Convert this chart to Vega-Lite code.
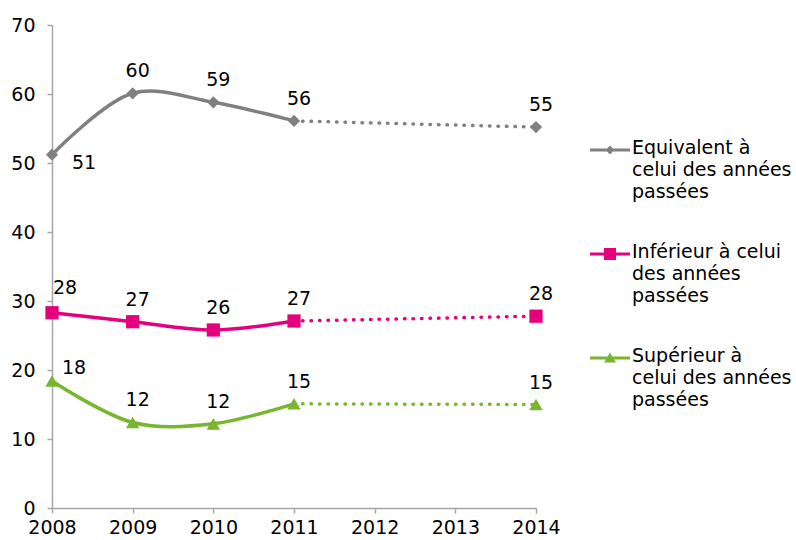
{
  "$schema": "https://vega.github.io/schema/vega-lite/v6.json",
  "width": 484,
  "height": 483,
  "autosize": {"type": "none"},
  "padding": {"left": 52, "top": 25, "right": 260, "bottom": 32},
  "background": "white",
  "config": {
    "view": {"stroke": null},
    "font": "DejaVu Sans",
    "axis": {
      "grid": false,
      "domainColor": "#a6a6a6",
      "tickColor": "#a6a6a6",
      "domainWidth": 1.5,
      "tickWidth": 1.5,
      "tickSize": 5,
      "labelFontSize": 19,
      "labelColor": "#000000",
      "labelFont": "DejaVu Sans",
      "labelFlush": false,
      "labelOverlap": false,
      "title": null
    }
  },
  "data": {
    "values": [
      {"year": 2008, "series": "Equivalent à celui des années passées", "value": 51.2},
      {"year": 2009, "series": "Equivalent à celui des années passées", "value": 60.1},
      {"year": 2010, "series": "Equivalent à celui des années passées", "value": 58.8},
      {"year": 2011, "series": "Equivalent à celui des années passées", "value": 56.1},
      {"year": 2014, "series": "Equivalent à celui des années passées", "value": 55.2},
      {"year": 2008, "series": "Inférieur à celui des années passées", "value": 28.3},
      {"year": 2009, "series": "Inférieur à celui des années passées", "value": 27.0},
      {"year": 2010, "series": "Inférieur à celui des années passées", "value": 25.8},
      {"year": 2011, "series": "Inférieur à celui des années passées", "value": 27.1},
      {"year": 2014, "series": "Inférieur à celui des années passées", "value": 27.8},
      {"year": 2008, "series": "Supérieur à celui des années passées", "value": 18.4},
      {"year": 2009, "series": "Supérieur à celui des années passées", "value": 12.4},
      {"year": 2010, "series": "Supérieur à celui des années passées", "value": 12.2},
      {"year": 2011, "series": "Supérieur à celui des années passées", "value": 15.1},
      {"year": 2014, "series": "Supérieur à celui des années passées", "value": 15.0}
    ]
  },
  "encoding": {
    "x": {
      "field": "year",
      "type": "quantitative",
      "scale": {"domain": [2008, 2014], "nice": false, "zero": false},
      "axis": {"values": [2008, 2009, 2010, 2011, 2012, 2013, 2014], "format": "d", "labelPadding": 5}
    },
    "y": {
      "field": "value",
      "type": "quantitative",
      "scale": {"domain": [0, 70], "nice": false},
      "axis": {"values": [0, 10, 20, 30, 40, 50, 60, 70], "labelPadding": 12}
    },
    "color": {
      "field": "series",
      "type": "nominal",
      "scale": {
        "domain": ["Equivalent à celui des années passées", "Inférieur à celui des années passées", "Supérieur à celui des années passées"],
        "range": ["#808080", "#e5007e", "#77b62e"]
      },
      "legend": {
        "title": null,
        "orient": "none",
        "legendX": 538,
        "legendY": 105,
        "labelFontSize": 19,
        "labelColor": "#000000",
        "labelFont": "DejaVu Sans",
        "symbolSize": 1600,
        "symbolStrokeWidth": 0,
        "symbolType": "M-1,-0.08H1V0.08H-1Z",
        "labelOffset": 2,
        "rowPadding": 32,
        "labelLimit": 300,
        "labelExpr": "datum.label == 'Equivalent à celui des années passées' ? ['Equivalent à', 'celui des années', 'passées'] : datum.label == 'Inférieur à celui des années passées' ? ['Inférieur à celui', 'des années', 'passées'] : ['Supérieur à', 'celui des années', 'passées']",
        "encode": {
          "labels": {"update": {"lineHeight": {"value": 22}, "baseline": {"value": "top"}, "dy": {"value": -11}}},
          "symbols": {
            "update": {
              "fill": {"scale": "color", "field": "value"},
              "size": {"value": 1600},
              "strokeWidth": {"value": 0},
              "opacity": {"value": 1},
              "shape": {"signal": "datum.value == 'Equivalent à celui des années passées' ? 'M-1,-0.08H1V0.08H-1Z M0,-0.22L0.22,0L0,0.22L-0.22,0Z' : datum.value == 'Inférieur à celui des années passées' ? 'M-1,-0.08H1V0.08H-1Z M-0.3,-0.3H0.3V0.3H-0.3Z' : 'M-1,-0.08H1V0.08H-1Z M0,-0.28L0.3,0.22L-0.3,0.22Z'"}
            }
          }
        }
      }
    }
  },
  "layer": [
    {
      "transform": [{"filter": "datum.year <= 2011"}],
      "mark": {"type": "line", "interpolate": "catmull-rom", "strokeWidth": 3.5}
    },
    {
      "transform": [{"filter": "datum.year >= 2011"}],
      "mark": {"type": "line", "strokeWidth": 3.5, "strokeDash": [0.5, 8], "strokeCap": "round"}
    },
    {
      "transform": [{"filter": "datum.series == 'Equivalent à celui des années passées'"}],
      "mark": {"type": "point", "filled": true, "opacity": 1, "shape": "diamond", "size": 150}
    },
    {
      "transform": [{"filter": "datum.series == 'Inférieur à celui des années passées'"}],
      "mark": {"type": "point", "filled": true, "opacity": 1, "shape": "square", "size": 175}
    },
    {
      "transform": [{"filter": "datum.series == 'Supérieur à celui des années passées'"}],
      "mark": {"type": "point", "filled": true, "opacity": 1, "shape": "triangle-up", "size": 180}
    },
    {
      "transform": [{"filter": "datum.year != 2008"}],
      "mark": {"type": "text", "align": "center", "baseline": "middle", "dx": 5, "dy": -22, "fontSize": 19},
      "encoding": {"text": {"field": "value", "type": "quantitative", "format": ".0f"}, "color": {"value": "#000000"}}
    },
    {
      "transform": [{"filter": "datum.year == 2008 && datum.series == 'Equivalent à celui des années passées'"}],
      "mark": {"type": "text", "align": "left", "baseline": "middle", "dx": 20, "dy": 8, "fontSize": 19},
      "encoding": {"text": {"field": "value", "type": "quantitative", "format": ".0f"}, "color": {"value": "#000000"}}
    },
    {
      "transform": [{"filter": "datum.year == 2008 && datum.series == 'Inférieur à celui des années passées'"}],
      "mark": {"type": "text", "align": "left", "baseline": "middle", "dx": 1, "dy": -25, "fontSize": 19},
      "encoding": {"text": {"field": "value", "type": "quantitative", "format": ".0f"}, "color": {"value": "#000000"}}
    },
    {
      "transform": [{"filter": "datum.year == 2008 && datum.series == 'Supérieur à celui des années passées'"}],
      "mark": {"type": "text", "align": "left", "baseline": "middle", "dx": 10, "dy": -13, "fontSize": 19},
      "encoding": {"text": {"field": "value", "type": "quantitative", "format": ".0f"}, "color": {"value": "#000000"}}
    }
  ]
}
